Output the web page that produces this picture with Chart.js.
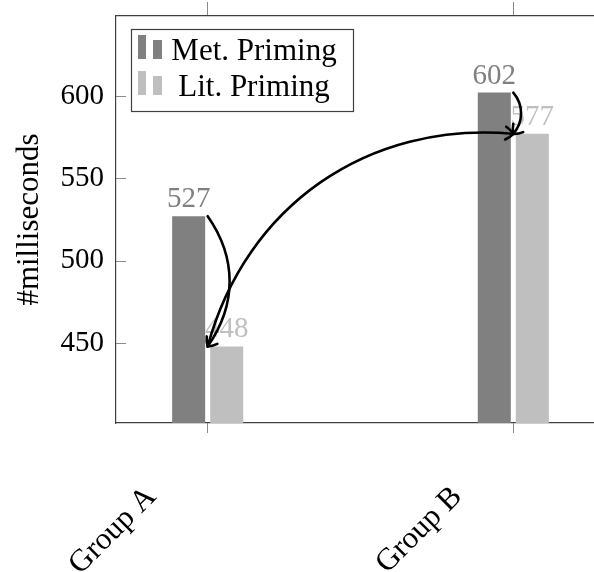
<!DOCTYPE html>
<html>
<head>
<meta charset="utf-8">
<script src="https://cdn.jsdelivr.net/npm/chart.js@4.4.0/dist/chart.umd.min.js"></script>
<style>
  html, body { margin: 0; padding: 0; background: #fff; overflow: hidden; }
  #wrap { width: 594px; height: 572px; overflow: hidden; }
</style>
</head>
<body>
<div id="wrap"><canvas id="chart" width="605" height="572"></canvas></div>
<script>
const groups = ['Group A', 'Group B'];
const seriesNames = ['Met. Priming', 'Lit. Priming'];
const metValues = [527, 602];
const litValues = [448, 577];
const yTicks = [450, 500, 550, 600];
const yMin = 401.5;
const yMax = 648.5;
const xMin = -0.3;
const xMax = 1.3;
// each arrow: [group, series] -> [group, series]
const arrows = [
    { from: [0, 0], to: [0, 1], bend: 35 },
    { from: [0, 1], to: [1, 1], bend: 40 },
    { from: [1, 0], to: [1, 1], bend: 40 }
];

const FONT = "'Liberation Serif', 'Times New Roman', serif";
const metColor = '#808080';
const litColor = '#bfbfbf';
const frameColor = '#404040';
const tickColor = '#8a8a8a';

Chart.defaults.font.family = FONT;
Chart.defaults.font.size = 29;
Chart.defaults.color = '#000';

const seriesValues = [metValues, litValues];

function point(chart, group, series) {
    const bar = chart.getDatasetMeta(series).data[group];
    return { x: chart.scales.x.getPixelForValue(group), y: bar.y };
}

function drawArrow(ctx, p0, p3, bendDeg) {
    const dx = p3.x - p0.x;
    const dy = p3.y - p0.y;
    const len = Math.hypot(dx, dy);
    const ang = Math.atan2(-dy, dx);
    const b = bendDeg * Math.PI / 180;
    const d = 0.3915 * len;
    const out = ang + b;
    const inn = ang - b;
    const c1 = { x: p0.x + d * Math.cos(out), y: p0.y - d * Math.sin(out) };
    const c2 = { x: p3.x - d * Math.cos(inn), y: p3.y + d * Math.sin(inn) };
    ctx.beginPath();
    ctx.moveTo(p0.x, p0.y);
    ctx.bezierCurveTo(c1.x, c1.y, c2.x, c2.y, p3.x, p3.y);
    ctx.stroke();
    // head
    const ha = Math.atan2(p3.y - c2.y, p3.x - c2.x);
    const hl = 10;
    [0.7, -0.7].forEach((s) => {
        const a = ha + Math.PI + s;
        ctx.beginPath();
        ctx.moveTo(p3.x + hl * Math.cos(a), p3.y + hl * Math.sin(a));
        ctx.quadraticCurveTo(
            p3.x + hl * 0.45 * Math.cos(a + s * 0.35),
            p3.y + hl * 0.45 * Math.sin(a + s * 0.35),
            p3.x, p3.y);
        ctx.stroke();
    });
}

const decorations = {
    id: 'decorations',
    afterDatasetsDraw(chart) {
        const ctx = chart.ctx;
        const area = chart.chartArea;
        ctx.save();
        // value labels
        ctx.font = '29px ' + FONT;
        ctx.textAlign = 'center';
        ctx.textBaseline = 'alphabetic';
        chart.data.datasets.forEach((ds, si) => {
            ctx.fillStyle = ds.backgroundColor;
            chart.getDatasetMeta(si).data.forEach((bar, i) => {
                ctx.fillText(String(seriesValues[si][i]), bar.x, bar.y - 9);
            });
        });
        // inside y ticks
        const y = chart.scales.y;
        ctx.strokeStyle = tickColor;
        ctx.lineWidth = 1;
        y.ticks.forEach((t) => {
            const py = Math.round(y.getPixelForValue(t.value)) + 0.5;
            ctx.beginPath();
            ctx.moveTo(area.left, py);
            ctx.lineTo(area.left + 10, py);
            ctx.stroke();
        });
        // legend
        const lx = 131, ly = 29, lw = 222, lh = 82;
        ctx.fillStyle = '#fff';
        ctx.fillRect(lx, ly, lw, lh);
        ctx.strokeStyle = frameColor;
        ctx.lineWidth = 1.2;
        ctx.strokeRect(lx + 0.5, ly + 0.5, lw, lh);
        ctx.font = '31px ' + FONT;
        ctx.textAlign = 'center';
        chart.data.datasets.forEach((ds, si) => {
            const rowBase = ly + 31 + si * 36;
            ctx.fillStyle = ds.backgroundColor;
            ctx.fillRect(lx + 7, rowBase - 25, 8, 24);
            ctx.fillRect(lx + 22, rowBase - 20, 9, 19);
            ctx.fillStyle = '#000';
            ctx.fillText(ds.label, lx + 123, rowBase);
        });
        ctx.restore();
    },
    afterDraw(chart) {
        const ctx = chart.ctx;
        ctx.save();
        ctx.strokeStyle = '#000';
        ctx.lineWidth = 2.6;
        ctx.lineCap = 'round';
        arrows.forEach((a) => {
            const p0 = point(chart, a.from[0], a.from[1]);
            const p3 = point(chart, a.to[0], a.to[1]);
            drawArrow(ctx, p0, p3, a.bend);
        });
        ctx.restore();
    }
};

new Chart(document.getElementById('chart'), {
    type: 'bar',
    data: {
        datasets: [
            {
                label: seriesNames[0],
                data: metValues.map((v, i) => ({ x: i, y: v })),
                backgroundColor: metColor,
                borderWidth: 0
            },
            {
                label: seriesNames[1],
                data: litValues.map((v, i) => ({ x: i, y: v })),
                backgroundColor: litColor,
                borderWidth: 0
            }
        ]
    },
    options: {
        responsive: false,
        animation: false,
        categoryPercentage: 0.249,
        barPercentage: 0.868,
        layout: { padding: 0 },
        plugins: {
            legend: { display: false },
            tooltip: { enabled: false }
        },
        scales: {
            x: {
                type: 'linear',
                position: 'bottom',
                offset: false,
                min: xMin,
                max: xMax,
                afterBuildTicks: (s) => { s.ticks = groups.map((g, i) => ({ value: i })); },
                afterFit: (s) => { s.height = 149; s.paddingLeft = 0; s.paddingRight = 0; },
                grid: { offset: false, drawOnChartArea: false, drawTicks: true, tickLength: 10, color: tickColor },
                border: { display: true, color: frameColor, width: 1.2 },
                ticks: {
                    minRotation: 45,
                    maxRotation: 45,
                    padding: 46,
                    labelOffset: -56,
                    color: '#000',
                    font: { size: 31 },
                    callback: (v) => groups[v] ?? ''
                }
            },
            x2: {
                type: 'linear',
                position: 'top',
                offset: false,
                min: xMin,
                max: xMax,
                afterBuildTicks: (s) => { s.ticks = groups.map((g, i) => ({ value: i })); },
                afterFit: (s) => { s.height = 16; },
                grid: { offset: false, drawOnChartArea: false, drawTicks: true, tickLength: 14, color: tickColor },
                border: { display: true, color: frameColor, width: 1.2 },
                ticks: { display: false }
            },
            y: {
                min: yMin,
                max: yMax,
                afterBuildTicks: (s) => { s.ticks = yTicks.map((v) => ({ value: v })); },
                afterFit: (s) => { s.width = 116; s.paddingTop = 0; s.paddingBottom = 0; },
                grid: { drawOnChartArea: false, drawTicks: false },
                border: { display: true, color: frameColor, width: 1.2 },
                ticks: { padding: 12, color: '#000', font: { size: 29 } },
                title: {
                    display: true,
                    text: '#milliseconds',
                    color: '#000',
                    font: { size: 31 },
                    padding: { top: 11, bottom: 0 }
                }
            }
        }
    },
    plugins: [decorations]
});
</script>
</body>
</html>
